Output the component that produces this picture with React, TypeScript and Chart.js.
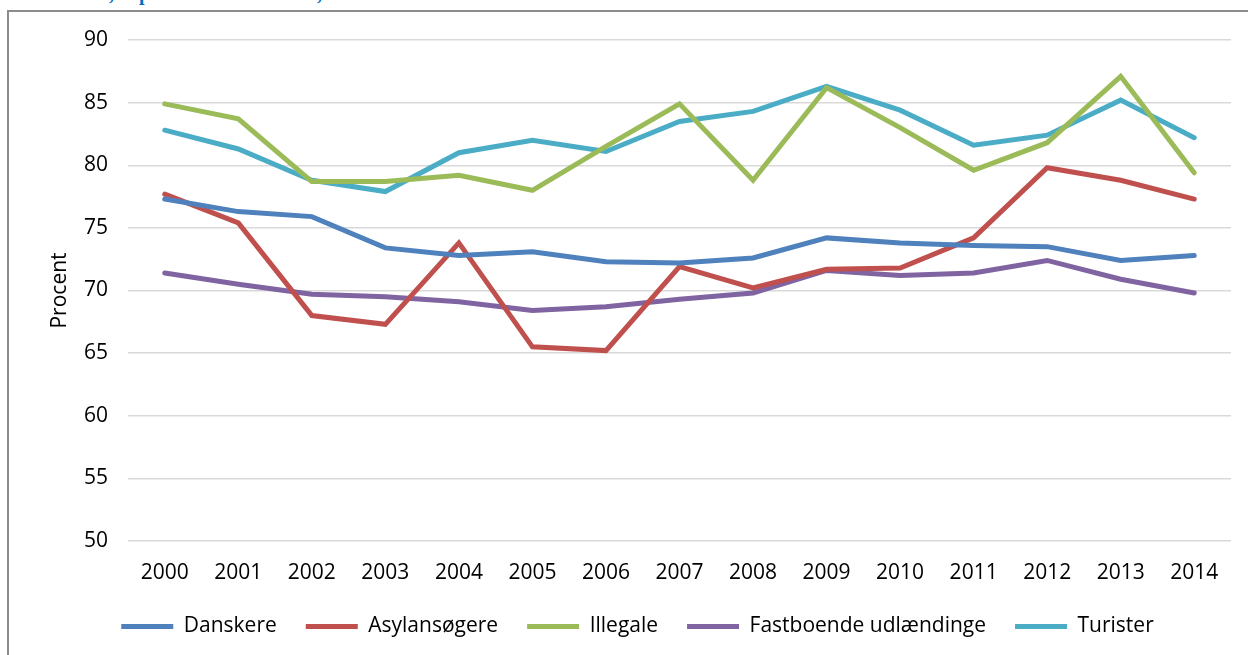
import React, { useEffect, useRef } from "react";
import { Chart, registerables } from "chart.js";

Chart.register(...registerables);

const years = ["2000", "2001", "2002", "2003", "2004", "2005", "2006", "2007", "2008", "2009", "2010", "2011", "2012", "2013", "2014"];
const danskere = [77.3, 76.3, 75.9, 73.4, 72.8, 73.1, 72.3, 72.2, 72.6, 74.2, 73.8, 73.6, 73.5, 72.4, 72.8];
const asylansogere = [77.7, 75.4, 68.0, 67.3, 73.8, 65.5, 65.2, 71.9, 70.2, 71.7, 71.8, 74.2, 79.8, 78.8, 77.3];
const illegale = [84.9, 83.7, 78.7, 78.7, 79.2, 78.0, 81.5, 84.9, 78.8, 86.2, 83.0, 79.6, 81.8, 87.1, 79.4];
const fastboende = [71.4, 70.5, 69.7, 69.5, 69.1, 68.4, 68.7, 69.3, 69.8, 71.6, 71.2, 71.4, 72.4, 70.9, 69.8];
const turister = [82.8, 81.3, 78.8, 77.9, 81.0, 82.0, 81.1, 83.5, 84.3, 86.3, 84.4, 81.6, 82.4, 85.2, 82.2];

const seriesNames = ["Danskere", "Asylansøgere", "Illegale", "Fastboende udlændinge", "Turister"];
const seriesColors = ["#4F81BD", "#C0504D", "#9BBB59", "#8064A2", "#4BACC6"];
const seriesValues = [danskere, asylansogere, illegale, fastboende, turister];

const FONT = "'Open Sans', 'Noto Sans', sans-serif";

export default function App() {
  const ref = useRef<HTMLCanvasElement | null>(null);

  useEffect(() => {
    if (!ref.current) return;
    const chart = new Chart(ref.current, {
      type: "line",
      data: {
        labels: years,
        datasets: seriesValues.map((vals, i) => ({
          label: seriesNames[i],
          data: vals,
          borderColor: seriesColors[i],
          backgroundColor: seriesColors[i],
          borderWidth: 5,
          borderCapStyle: "round" as const,
          pointRadius: 0,
          pointHoverRadius: 0,
          tension: 0,
          fill: false,
        })),
      },
      options: {
        responsive: false,
        animation: false,
        devicePixelRatio: 1,
        layout: { padding: { top: 28, left: 35, right: 32, bottom: 5 } },
        plugins: {
          tooltip: { enabled: false },
          legend: {
            position: "bottom",
            labels: {
              color: "#000",
              font: { family: FONT, size: 21 },
              boxWidth: 52,
              boxHeight: 5,
              padding: 29,
              useBorderRadius: true,
              borderRadius: 2.5,
              generateLabels: (c: any) =>
                c.data.datasets.map((d: any, i: number) => ({
                  text: d.label,
                  fillStyle: d.borderColor,
                  strokeStyle: d.borderColor,
                  lineWidth: 0,
                  hidden: false,
                  datasetIndex: i,
                  fontColor: "#000",
                })),
            },
          },
        },
        scales: {
          x: {
            offset: true,
            grid: { display: false },
            border: { display: false },
            ticks: { color: "#000", font: { family: FONT, size: 21 }, padding: 11, maxRotation: 0 },
            afterFit: (s: any) => {
              s.height = 46;
            },
          },
          y: {
            min: 50,
            max: 90,
            ticks: { stepSize: 5, color: "#000", font: { family: FONT, size: 21 }, padding: 20 },
            grid: { color: "#d9d9d9", lineWidth: 1.5, drawTicks: false },
            border: { display: false },
            title: {
              display: true,
              text: "Procent",
              color: "#000",
              font: { family: FONT, size: 21 },
              padding: { top: 3, bottom: 0 },
            },
            afterFit: (s: any) => {
              s.width = 84;
              s.paddingTop = 0;
              s.paddingBottom = 0;
            },
          },
        },
      },
    });
    return () => chart.destroy();
  }, []);

  const blue = "#0070C0";
  const frag: React.CSSProperties = {
    position: "absolute",
    fontFamily: "'Liberation Serif', 'Times New Roman', serif",
    fontWeight: "bold",
    fontSize: 20,
    lineHeight: "20px",
    color: blue,
    top: -17,
    whiteSpace: "pre",
  };

  return (
    <div style={{ position: "fixed", left: 0, top: 0, width: 1248, height: 655, overflow: "hidden", background: "#fff" }}>
      <span style={{ ...frag, left: 109 }}>,</span>
      <span style={{ ...frag, left: 139 }}>p</span>
      <span style={{ ...frag, left: 317 }}>,</span>
      <div
        style={{
          position: "absolute",
          left: 7,
          top: 10,
          width: 1300,
          height: 700,
          borderLeft: "2px solid #8c8c8c",
          borderTop: "2px solid #8c8c8c",
        }}
      >
        <canvas ref={ref} width={1254} height={640} style={{ display: "block" }} />
      </div>
    </div>
  );
}
